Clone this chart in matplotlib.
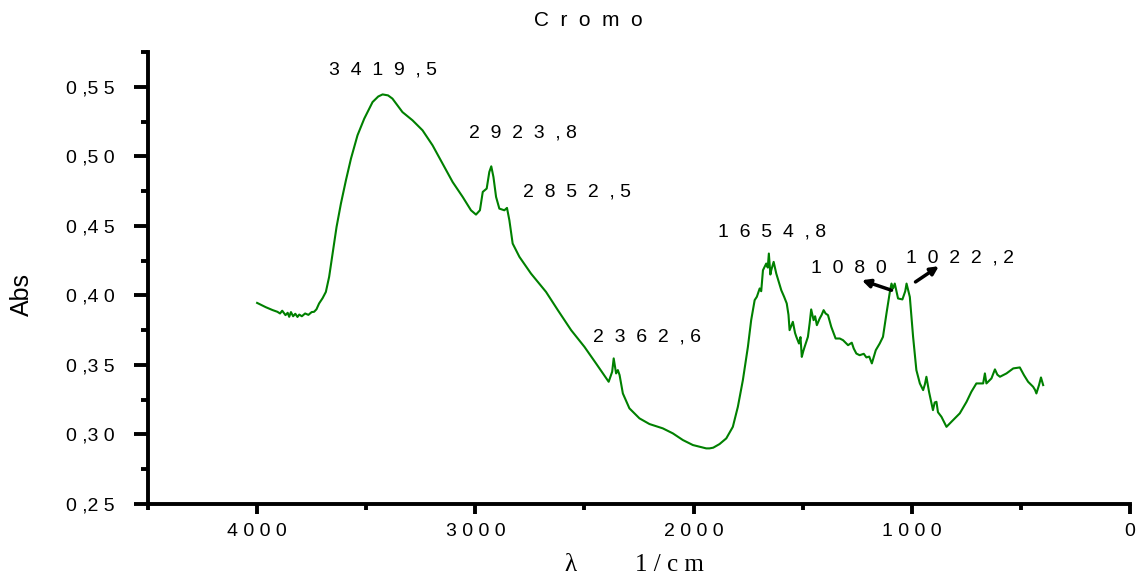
import matplotlib
matplotlib.use("Agg")
import matplotlib.pyplot as plt
from matplotlib.ticker import FixedLocator, MultipleLocator

# spectrum (wavenumber 1/cm, absorbance)
wavenumber = [4000, 3960, 3930, 3907, 3895, 3885, 3870, 3860, 3853, 3845, 3835, 3825,
              3815, 3807, 3795, 3780, 3765, 3750, 3739, 3728, 3716, 3700, 3685, 3670,
              3654, 3636, 3616, 3593, 3570, 3540, 3509, 3471, 3445, 3425, 3400, 3380,
              3334, 3288, 3242, 3196, 3150, 3104, 3058, 3020, 2997, 2979, 2966, 2948,
              2936, 2927, 2917, 2905, 2890, 2867, 2855, 2850, 2844, 2829, 2798, 2745,
              2676, 2622, 2561, 2500, 2447, 2389, 2373, 2366, 2358, 2355, 2347, 2339,
              2324, 2294, 2248, 2202, 2141, 2095, 2049, 2003, 1972, 1942, 1927, 1910,
              1881, 1850, 1820, 1797, 1774, 1751, 1736, 1720, 1710, 1697, 1690, 1682,
              1667, 1660, 1655, 1648, 1644, 1633, 1621, 1610, 1598, 1585, 1573, 1565,
              1560, 1545, 1535, 1529, 1517, 1510, 1504, 1497, 1491, 1476, 1468, 1461,
              1450, 1443, 1435, 1422, 1413, 1404, 1395, 1384, 1369, 1349, 1330, 1315,
              1292, 1275, 1266, 1254, 1239, 1220, 1208, 1195, 1183, 1165, 1147, 1132,
              1116, 1100, 1093, 1086, 1078, 1063, 1043, 1030, 1024, 1009, 994, 979,
              963, 948, 940, 933, 921, 903, 895, 887, 880, 864, 841, 825, 811, 780,
              749, 727, 704, 673, 665, 658, 635, 619, 608, 596, 566, 535, 505, 486,
              467, 444, 435, 429, 417, 408, 398]
absorbance = [0.3946, 0.3915, 0.3895, 0.3882, 0.3870, 0.3890, 0.3858, 0.3875, 0.3846, 0.3880, 0.3850, 0.3868,
              0.3845, 0.3862, 0.3850, 0.3870, 0.3860, 0.3880, 0.3882, 0.3900, 0.3942, 0.3980, 0.4025, 0.4133,
              0.4301, 0.4492, 0.4660, 0.4828, 0.4983, 0.5151, 0.5271, 0.5390, 0.5430, 0.5445, 0.5438, 0.5415,
              0.5318, 0.5259, 0.5187, 0.5079, 0.4947, 0.4815, 0.4708, 0.4612, 0.4581, 0.4612, 0.4744, 0.4768,
              0.4887, 0.4928, 0.4851, 0.4708, 0.4624, 0.4612, 0.4629, 0.4590, 0.4540, 0.4373, 0.4277, 0.4157,
              0.4025, 0.3894, 0.3750, 0.3630, 0.3511, 0.3379, 0.3451, 0.3547, 0.3470, 0.3439, 0.3463, 0.3427,
              0.3295, 0.3188, 0.3116, 0.3075, 0.3044, 0.3008, 0.2960, 0.2924, 0.2912, 0.2900, 0.2900, 0.2905,
              0.2931, 0.2972, 0.3055, 0.3199, 0.3391, 0.3630, 0.3822, 0.3966, 0.3990, 0.4050, 0.4030, 0.4181,
              0.4229, 0.4200, 0.4301, 0.4150, 0.4181, 0.4241, 0.4157, 0.4100, 0.4037, 0.3990, 0.3942, 0.3860,
              0.3750, 0.3810, 0.3730, 0.3702, 0.3654, 0.3700, 0.3558, 0.3600, 0.3630, 0.3702, 0.3800, 0.3899,
              0.3822, 0.3850, 0.3786, 0.3834, 0.3860, 0.3894, 0.3870, 0.3858, 0.3774, 0.3690, 0.3690, 0.3678,
              0.3642, 0.3660, 0.3618, 0.3582, 0.3570, 0.3580, 0.3554, 0.3560, 0.3511, 0.3606, 0.3654, 0.3702,
              0.3870, 0.4030, 0.4085, 0.4050, 0.4085, 0.3978, 0.3971, 0.4030, 0.4085, 0.3989, 0.3702, 0.3463,
              0.3367, 0.3319, 0.3360, 0.3415, 0.3307, 0.3175, 0.3230, 0.3235, 0.3160, 0.3127, 0.3055, 0.3080, 0.3103, 0.3152,
              0.3235, 0.3307, 0.3367, 0.3367, 0.3439, 0.3367, 0.3403, 0.3468, 0.3430, 0.3415, 0.3439, 0.3475, 0.3482, 0.3427,
              0.3379, 0.3343, 0.3320, 0.3295, 0.3355, 0.3410, 0.3355]

x_ticks = [4000, 3000, 2000, 1000, 0]
x_tick_labels = ["4 0 0 0", "3 0 0 0", "2 0 0 0", "1 0 0 0", "0"]
y_ticks = [0.25, 0.30, 0.35, 0.40, 0.45, 0.50, 0.55]
y_tick_labels = ["0 ,2 5", "0 ,3 0", "0 ,3 5", "0 ,4 0", "0 ,4 5", "0 ,5 0", "0 ,5 5"]

peak_labels = ["3  4  1  9  , 5", "2  9  2  3  , 8", "2  8  5  2  , 5", "2  3  6  2  , 6",
               "1  6  5  4  , 8", "1  0  8  0", "1  0  2  2  , 2"]
peak_label_pos = [(3670, 0.5618), (3028, 0.5165), (2780, 0.4741), (2463, 0.3700),
                  (1890, 0.4454), (1463, 0.4195), (1028, 0.4267)]

plt.rcParams['font.family'] = ['Liberation Sans', 'DejaVu Sans']

fig = plt.figure(figsize=(11.42, 5.81), dpi=100)
ax = fig.add_axes([0.1296, 0.1325, 0.8599, 0.778])

ax.plot(wavenumber, absorbance, color='#008000', lw=1.5)

ax.set_xlim(4500, 0)
ax.set_ylim(0.25, 0.575)

for s in ['top', 'right']:
    ax.spines[s].set_visible(False)
for s in ['left', 'bottom']:
    ax.spines[s].set_linewidth(2.8)

ax.xaxis.set_major_locator(FixedLocator(x_ticks))
ax.set_xticklabels(x_tick_labels)
ax.xaxis.set_minor_locator(MultipleLocator(500))
ax.yaxis.set_major_locator(FixedLocator(y_ticks))
ax.set_yticklabels(y_tick_labels)
ax.yaxis.set_minor_locator(MultipleLocator(0.025))

ax.tick_params(axis='y', which='major', direction='out', length=10, width=2.8, pad=14, labelsize=14)
ax.tick_params(axis='y', which='minor', direction='out', length=5, width=2.8)
ax.tick_params(axis='x', which='major', direction='out', length=7, width=2.8, pad=7, labelsize=14)
ax.tick_params(axis='x', which='minor', direction='out', length=4, width=2.8)

for txt, (px, py) in zip(peak_labels, peak_label_pos):
    ax.text(px, py, txt, fontsize=14, ha='left', va='center')

arrow = dict(arrowstyle='-|>', color='black', lw=2.5, mutation_scale=12, shrinkA=0, shrinkB=0)
ax.annotate('', xy=(1229, 0.4109), xytext=(1093, 0.4037), arrowprops=arrow)
ax.annotate('', xy=(876, 0.4210), xytext=(983, 0.4097), arrowprops=arrow)

fig.text(588 / 1142, 1 - 20 / 581, "C  r  o  m  o", fontsize=15, ha='center', va='center')
fig.text(22 / 1142, 1 - 294 / 581, "Abs", fontsize=18, rotation=90, ha='center', va='center')
serif = ['Liberation Serif', 'DejaVu Serif']
fig.text(570 / 1142, 1 - 565 / 581, "λ", fontsize=18, ha='center', va='center', family=serif)
fig.text(635 / 1142, 1 - 565 / 581, "1 / c m", fontsize=18, ha='left', va='center', family=serif)

fig.savefig("out.png", dpi=100)
